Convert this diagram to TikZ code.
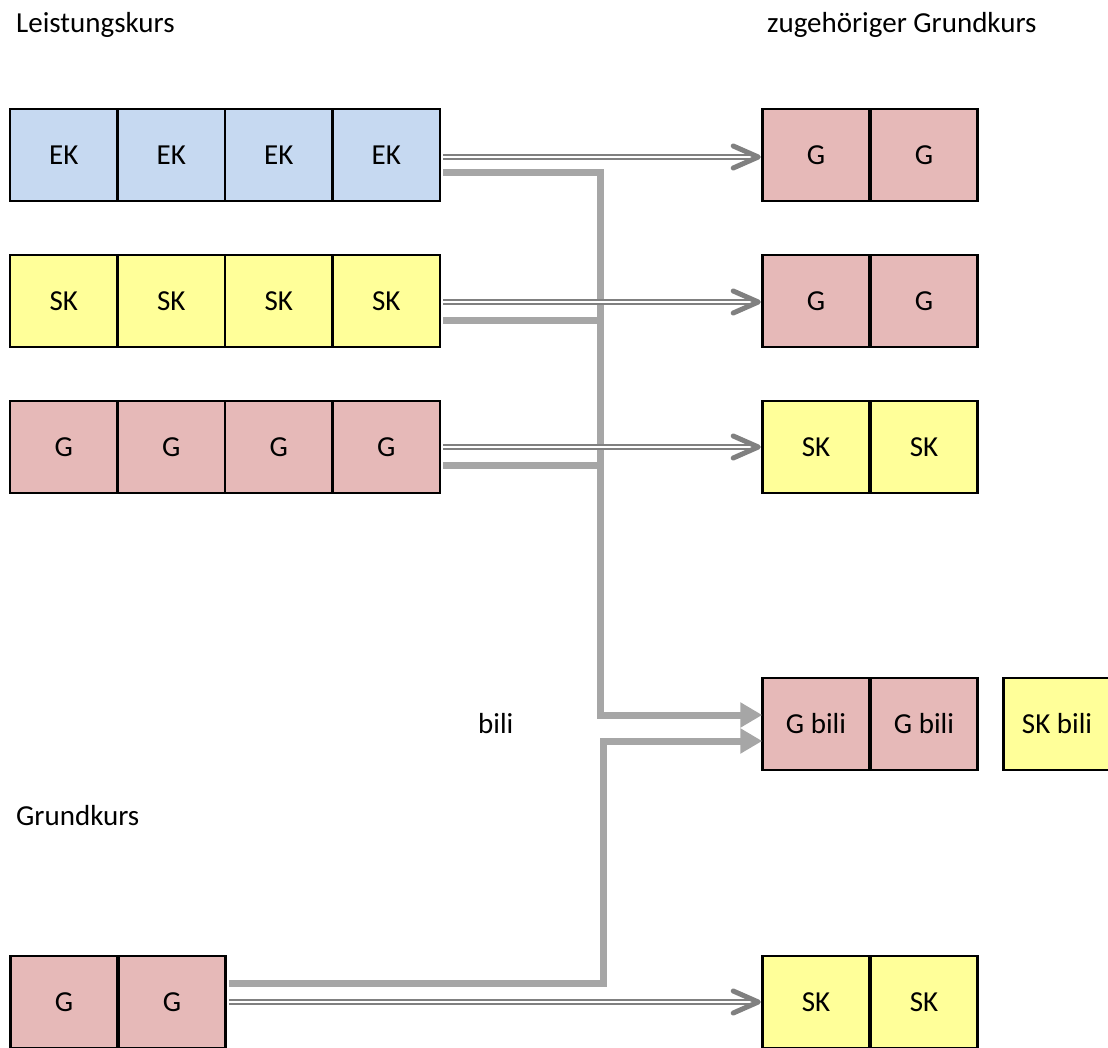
\documentclass[tikz,border=0pt]{standalone}
\usepackage{fontspec}
\setmainfont{Carlito}
\usetikzlibrary{arrows.meta,calc}
\definecolor{ekblue}{HTML}{C6D9F1}
\definecolor{skyellow}{HTML}{FFFF99}
\definecolor{gpink}{HTML}{E6B9B8}
\definecolor{lgray}{HTML}{A6A6A6}
\definecolor{dgray}{HTML}{808080}
\begin{document}
\begin{tikzpicture}[x=1pt,y=-1pt,
  cell/.style={draw=black,line width=2.8pt,minimum width=107.5pt,minimum height=92pt,inner sep=0pt,outer sep=0pt,font=\fontsize{29}{33}\selectfont},
  ek/.style={cell,fill=ekblue},
  sk/.style={cell,fill=skyellow},
  gg/.style={cell,fill=gpink},
  hdr/.style={anchor=base west,inner sep=0pt,font=\fontsize{29}{33}\selectfont},
  dbl/.style={draw=dgray,line width=2pt,double=white,double distance=2.4pt},
  chev/.style={draw=dgray,line width=5pt,line cap=round,line join=round},
  gline/.style={draw=lgray,line width=7pt,line join=miter},
  gtip/.style={-{Triangle[length=22pt,width=24pt]}}]
\clip (0,0) rectangle (1108,1048);
% headers
\node[hdr] (h1) at (16,33) {Leistungskurs};
\node[hdr] (h2) at (767,33) {zugehöriger Grundkurs};
\node[hdr] (h3) at (16,825) {Grundkurs};
\node[hdr] (h4) at (478,733) {bili};
% row 1
\node[ek] (ek1) at (63.75,155) {EK};
\node[ek] (ek2) at (171.25,155) {EK};
\node[ek] (ek3) at (278.75,155) {EK};
\node[ek] (ek4) at (386.25,155) {EK};
\node[gg] (ra1) at (816,155) {G};
\node[gg] (ra2) at (924,155) {G};
% row 2
\node[sk] (sk1) at (63.75,301) {SK};
\node[sk] (sk2) at (171.25,301) {SK};
\node[sk] (sk3) at (278.75,301) {SK};
\node[sk] (sk4) at (386.25,301) {SK};
\node[gg] (rb1) at (816,301) {G};
\node[gg] (rb2) at (924,301) {G};
% row 3
\node[gg] (g1) at (63.75,447) {G};
\node[gg] (g2) at (171.25,447) {G};
\node[gg] (g3) at (278.75,447) {G};
\node[gg] (g4) at (386.25,447) {G};
\node[sk] (rc1) at (816,447) {SK};
\node[sk] (rc2) at (924,447) {SK};
% bili row
\node[gg] (bi1) at (816,724) {G bili};
\node[gg] (bi2) at (924,724) {G bili};
\node[sk] (bi3) at (1057,724) {SK bili};
% bottom row
\node[gg] (gk1) at (64,1002) {G};
\node[gg] (gk2) at (172,1002) {G};
\node[sk] (rd1) at (816,1002) {SK};
\node[sk] (rd2) at (924,1002) {SK};
% junction points
\coordinate (b1) at (600,715);
\coordinate (b2) at (603,741);
% thick gray lines
\draw[gline,gtip] ($(ek4.east)+(3,18)$) -| (b1) -- (bi1.west |- b1);
\draw[gline] ($(sk4.east)+(3,20)$) -- ++(158,0);
\draw[gline] ($(g4.east)+(3,18)$) -- ++(158,0);
\draw[gline,gtip] ($(gk2.east)+(3,-19)$) -| (b2) -- (bi1.west |- b2);
% double arrows
\draw[dbl] ($(ek4.east)+(3,2)$) -- ($(ra1.west)+(-6,2)$);
\draw[chev] ($(ra1.west)+(-29,-9)$) -- ($(ra1.west)+(-4,2)$) -- ($(ra1.west)+(-29,13)$);
\draw[dbl] ($(sk4.east)+(3,1)$) -- ($(rb1.west)+(-6,1)$);
\draw[chev] ($(rb1.west)+(-29,-10)$) -- ($(rb1.west)+(-4,1)$) -- ($(rb1.west)+(-29,12)$);
\draw[dbl] ($(g4.east)+(3,0)$) -- ($(rc1.west)+(-6,0)$);
\draw[chev] ($(rc1.west)+(-29,-11)$) -- ($(rc1.west)+(-4,0)$) -- ($(rc1.west)+(-29,11)$);
\draw[dbl] ($(gk2.east)+(3,0)$) -- ($(rd1.west)+(-6,0)$);
\draw[chev] ($(rd1.west)+(-29,-11)$) -- ($(rd1.west)+(-4,0)$) -- ($(rd1.west)+(-29,11)$);
\end{tikzpicture}
\end{document}
